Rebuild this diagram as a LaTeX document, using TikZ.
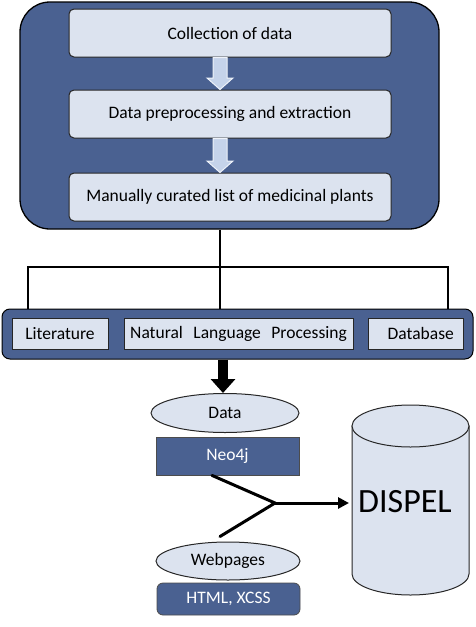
\documentclass[tikz,border=0pt]{standalone}
\usepackage{fontspec}
\setmainfont{Carlito}
\usetikzlibrary{shapes.geometric,arrows.meta,calc}
\definecolor{dkblue}{HTML}{4A6191}
\definecolor{ltfill}{HTML}{DCE3EF}
\definecolor{arrfill}{HTML}{C5D3EA}
\definecolor{arredge}{HTML}{EEF2F9}
\tikzset{
  txt/.style={font=\fontsize{17.5}{20}\selectfont},
  outerbox/.style={draw=black, line width=1.3pt, fill=dkblue, inner sep=0pt},
  stepbox/.style={draw=black!85, line width=1pt, fill=ltfill, rounded corners=5pt, minimum width=322pt, minimum height=48pt, inner sep=0pt, txt},
  srcbox/.style={draw=black!85, line width=1pt, fill=ltfill, minimum height=31pt, inner sep=0pt, txt},
  oval/.style={ellipse, draw=black!85, line width=1pt, fill=ltfill, inner sep=0pt, txt},
  darkbox/.style={draw=black!70, line width=0.8pt, fill=dkblue, text=white, inner sep=0pt, minimum width=143pt, txt},
  blockarrow/.style={fill=arrfill, draw=arredge, line width=1pt},
  wire/.style={draw=black, line width=1.3pt},
  thick wire/.style={draw=black, line width=3pt}
}
\begin{document}
\begin{tikzpicture}[x=1pt,y=-1pt]
\useasboundingbox (0,0) rectangle (475,627);
% outer box
\node[outerbox, rounded corners=30pt, minimum width=419pt, minimum height=227pt] (outer) at (229.5,115.5) {};
\node[stepbox] (b1) at (230,33) {Collection of data};
\node[stepbox] (b2) at (230,114) {Data preprocessing and extraction};
\node[stepbox] (b3) at (230,197) {Manually curated list of medicinal plants};
% block arrows
\path[blockarrow] (213,57.5) -- (227,57.5) -- (227,78) -- (233,78) -- (220,89.5) -- (207,78) -- (213,78) -- cycle;
\path[blockarrow] (213,138.5) -- (227,138.5) -- (227,161) -- (233,161) -- (220,172.5) -- (207,161) -- (213,161) -- cycle;
% lower bar
\node[outerbox, line width=1pt, rounded corners=8pt, minimum width=471pt, minimum height=50pt] (bar) at (237.5,334) {};
\node[srcbox, minimum width=96pt] (lit) at (60,333.5) {Literature};
\node[srcbox, minimum width=229pt] (nlp) at (238.5,333.5) {Natural\hspace{0.6em}Language\hspace{0.6em}Processing};
\node[srcbox, minimum width=95pt] (db) at (415.5,333.5) {\hspace{0.6em}Database};
% tree connector
\coordinate (jn) at (220,267);
\coordinate (jl) at (28,267);
\coordinate (jr) at (448,267);
\draw[wire] (outer.south -| jn) -- (bar.north -| jn);
\draw[wire] (bar.north -| jl) -- (jl) -- (jr) -- (bar.north -| jr);
% data
\node[oval, minimum width=148pt, minimum height=39pt] (data) at (225,413) {Data};
\draw[draw=black, line width=10pt, -{Triangle[width=24pt,length=14pt]}] (bar.south -| 223,0) -- (data.north -| 223,0);
\node[darkbox, minimum height=38pt] (neo) at (227.5,456) {Neo4j};
\node[oval, minimum width=144pt, minimum height=38pt] (web) at (228,561) {Webpages};
\node[darkbox, rounded corners=6pt, minimum height=32pt] (html) at (228.5,599) {HTML, XCSS};
% cylinder
\path[draw=black!85, line width=1pt, fill=ltfill] (352,426) -- (352,574) arc[start angle=180, end angle=0, x radius=58.5, y radius=21] -- (469,426) -- cycle;
\draw[black!85, line width=1pt, fill=ltfill] (410.5,426) ellipse [x radius=58.5, y radius=21];
\node[font=\fontsize{34}{38}\selectfont, inner sep=0pt] (dispel) at (405,502) {DISPEL};
\coordinate (cyl) at (349,503);
% zigzag connector
\coordinate (mid) at (275,503);
\draw[thick wire, line cap=round] ($(neo.south)+(-15.5,0)$) -- (mid) -- ($(web.north)+(-8,-5)$);
\draw[thick wire, -{Triangle[width=11pt,length=11pt]}] (mid) -- (cyl);
\end{tikzpicture}
\end{document}
